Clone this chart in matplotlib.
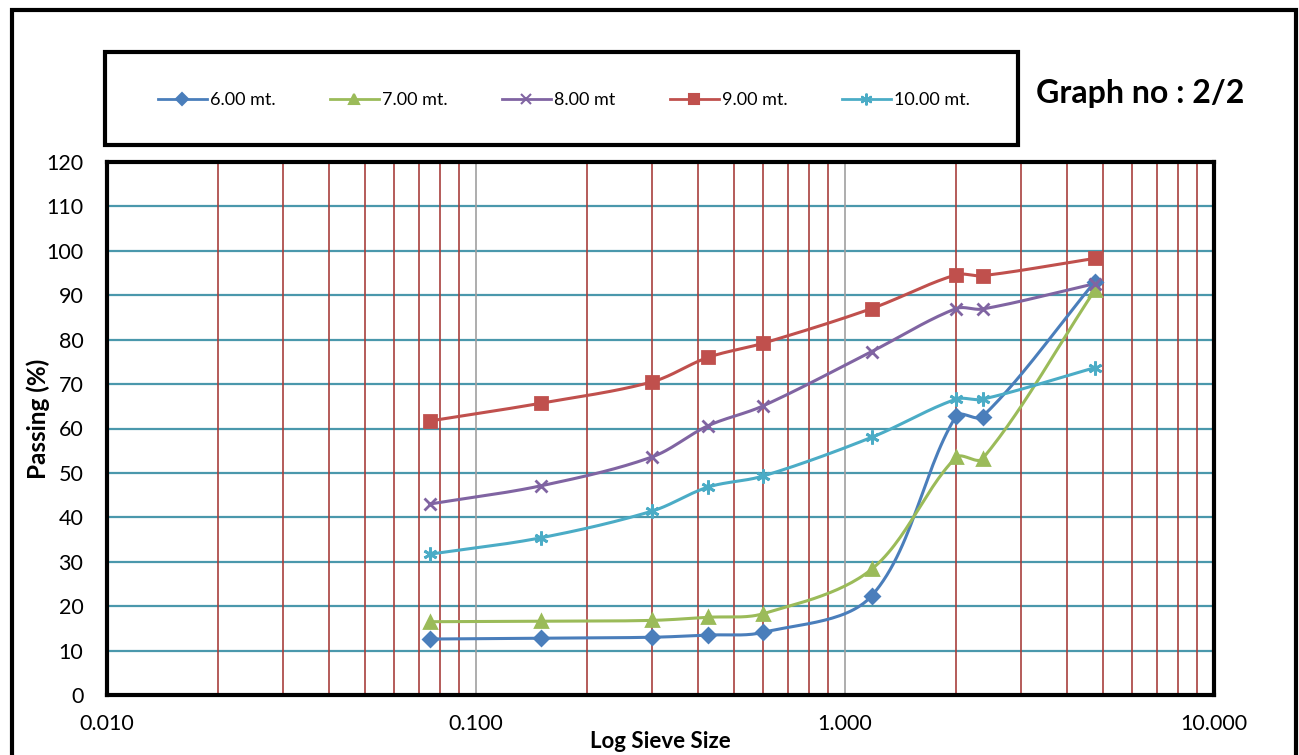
import matplotlib
matplotlib.use("Agg")
import matplotlib.pyplot as plt
import numpy as np
from matplotlib.patches import Rectangle
from matplotlib.ticker import FixedLocator, FormatStrFormatter

plt.rcParams['font.family'] = ['Lato', 'DejaVu Sans']

# sieve sizes (mm)
sieve = [0.075, 0.15, 0.3, 0.425, 0.6, 1.18, 2.0, 2.36, 4.75]

# percentage passing, one list per depth
p6 = [12.6, 12.8, 13.0, 13.5, 14.1, 22.3, 62.8, 62.7, 93.0]
p7 = [16.5, 16.6, 16.8, 17.5, 18.3, 28.3, 53.5, 53.2, 91.1]
p8 = [43.0, 47.1, 53.6, 60.6, 65.1, 77.3, 87.0, 86.9, 92.6]
p9 = [61.7, 65.7, 70.5, 76.0, 79.2, 87.0, 94.6, 94.4, 98.3]
p10 = [31.7, 35.4, 41.4, 46.8, 49.3, 58.0, 66.6, 66.6, 73.7]

labels = ["6.00 mt.", "7.00 mt.", "8.00 mt", "9.00 mt.", "10.00 mt."]
colors = ["#4A7EBB", "#9BBB59", "#8064A2", "#C0504D", "#4BACC6"]
markers = ["D", "^", "x", "s", (6, 2, 0)]
msizes = [7, 9, 9, 9, 10]

xticks = [0.01, 0.1, 1, 10]
yticks = list(range(0, 121, 10))

W, H = 1299, 755
fig = plt.figure(figsize=(W / 100, H / 100), dpi=100)
ax = fig.add_axes([107 / W, 1 - 695 / H, (1214 - 107) / W, (695 - 162) / H])
ax.set_xscale("log")
ax.set_xlim(0.01, 10)
ax.set_ylim(0, 120)

# grid: teal horizontals, red minor verticals, grey major verticals
for yv in yticks[1:-1]:
    ax.axhline(yv, color="#4A98AC", lw=1.6, zorder=1)
for dec in [0.01, 0.1, 1]:
    for k in range(2, 10):
        ax.axvline(dec * k, color="#A8403D", lw=1.2, zorder=1)
for xv in [0.1, 1]:
    ax.axvline(xv, color="#A0A0A0", lw=1.2, zorder=1)


def smooth(xs, ys, n=30):
    # Bezier smoothing in pixel space, tangents scaled by segment length (no overshoot loops)
    pts = ax.transData.transform(np.column_stack([xs, ys]))
    P = np.vstack([pts[0], pts, pts[-1]])
    out = []
    t = np.linspace(0, 1, n)[:, None]
    for i in range(1, len(P) - 2):
        p0, p1, p2, p3 = P[i - 1], P[i], P[i + 1], P[i + 2]
        l01 = np.hypot(*(p1 - p0))
        l12 = np.hypot(*(p2 - p1))
        l23 = np.hypot(*(p3 - p2))
        r1 = l12 / (l01 + l12) if l01 + l12 > 0 else 0
        r2 = l12 / (l12 + l23) if l12 + l23 > 0 else 0
        c1 = p1 + (p2 - p0) * r1 / 3
        c2 = p2 - (p3 - p1) * r2 / 3
        b = ((1 - t) ** 3) * p1 + 3 * ((1 - t) ** 2) * t * c1 + 3 * (1 - t) * t ** 2 * c2 + t ** 3 * p2
        out.append(b)
    out = np.vstack(out)
    d = ax.transData.inverted().transform(out)
    return d[:, 0], d[:, 1]


series = [p6, p7, p8, p9, p10]
handles = []
for vals, lab, col, mk, ms in zip(series, labels, colors, markers, msizes):
    sx, sy = smooth(sieve, vals)
    ax.plot(sx, sy, color=col, lw=2.2, zorder=3)
    ax.plot(sieve, vals, ls="none", marker=mk, ms=ms, color=col, mec=col, mew=2, zorder=4)
    h, = ax.plot([], [], color=col, lw=2, marker=mk, ms=ms * 0.85, mec=col, mew=1.5, label=lab)
    handles.append(h)

ax.xaxis.set_major_locator(FixedLocator(xticks))
ax.xaxis.set_minor_locator(FixedLocator([]))
ax.xaxis.set_major_formatter(FormatStrFormatter("%.3f"))
ax.set_yticks(yticks)
ax.tick_params(axis="both", length=0, labelsize=15.5)
ax.tick_params(axis="y", pad=17)
ax.tick_params(axis="x", pad=14)
for s in ax.spines.values():
    s.set_linewidth(3)
    s.set_color("black")
    s.set_zorder(5)

fig.text(660 / W, 1 - 742 / H, "Log Sieve Size", fontsize=16, fontweight="bold",
         ha="center", va="center")
fig.text(38 / W, 1 - 419 / H, "Passing (%)", fontsize=17.5, fontweight="bold",
         ha="center", va="center", rotation=90)
fig.text(1140 / W, 1 - 93 / H, "Graph no : 2/2", fontsize=23, fontweight="bold",
         ha="center", va="center")

# legend box
fig.add_artist(Rectangle((105 / W, 1 - 145 / H), 913 / W, 93 / H, transform=fig.transFigure,
                         fill=False, lw=3, ec="black"))
fig.legend(handles=handles, loc="center", bbox_to_anchor=(564 / W, 1 - 100 / H), ncol=5,
           frameon=False, fontsize=13, handlelength=2.7, columnspacing=3.0, handletextpad=0.2)

# outer border
fig.add_artist(Rectangle((12 / W, -0.05), (1296 - 12) / W, 1.05 - 10 / H, transform=fig.transFigure,
                         fill=False, lw=3, ec="black", clip_on=False))

fig.savefig("out.png", dpi=100)
